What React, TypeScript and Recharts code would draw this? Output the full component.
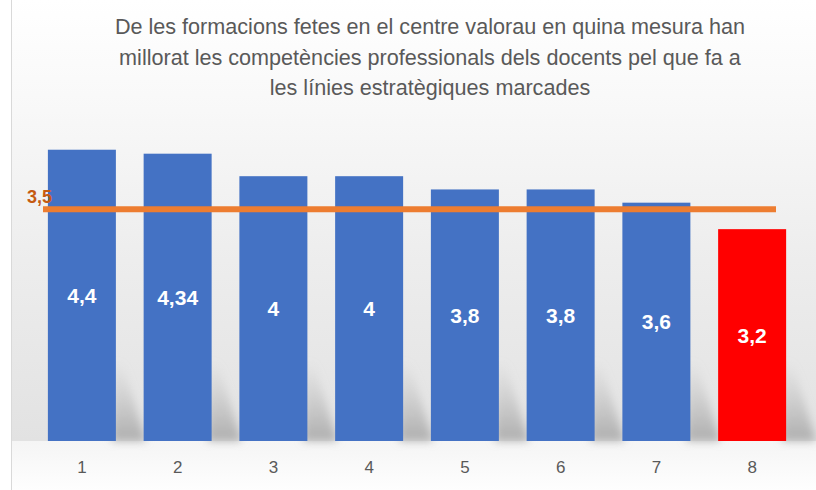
import { BarChart, Bar, XAxis, YAxis, Cell, LabelList, ReferenceLine } from "recharts";

const categories = ["1", "2", "3", "4", "5", "6", "7", "8"];
const values = [4.4, 4.34, 4, 4, 3.8, 3.8, 3.6, 3.2];
const target = 3.5;
const titleLines = [
  "De les formacions fetes en el centre valorau en quina mesura han",
  "millorat les competències professionals dels docents pel que fa a",
  "les línies estratègiques marcades",
];

const data = categories.map((c, i) => ({ name: c, value: values[i] }));

const BLUE = "#4472C4";
const RED = "#FF0000";
const FONT = "'Liberation Sans', Arial, sans-serif";

const fmt = (v: number) => String(v).replace(".", ",");

function BarWithShadow(props: any) {
  const { x, y, width, height, fill } = props;
  const bottom = y + height;
  return (
    <g>
      <polygon
        points={`${x + width - 4},${bottom - 80} ${x + width + 6},${bottom - 80} ${x + width + 30},${bottom} ${x + width - 4},${bottom}`}
        fill="url(#shadowGrad)"
        filter="url(#shadowBlur)"
      />
      <rect x={x} y={y} width={width} height={height} fill={fill} />
    </g>
  );
}

export default function App() {
  return (
    <div style={{ position: "fixed", left: 0, top: 0, width: 816, height: 490, background: "#fff", fontFamily: FONT }}>
      <div
        style={{
          position: "absolute",
          left: 11,
          top: 0,
          width: 805,
          height: 490,
          borderLeft: "1.5px solid #d9d9d9",
          background:
            "linear-gradient(to bottom, #ffffff 0px, #f8f8f8 110px, #ededed 260px, #e2e2e2 441px, #f5f5f5 441px, #fefefe 490px)",
        }}
      />
      <div style={{ position: "absolute", left: 100, top: 12, width: 660, textAlign: "center", color: "#595959", fontSize: 21.6, lineHeight: "30.5px" }}>
        {titleLines.map((l) => (
          <div key={l} style={{ whiteSpace: "nowrap" }}>{l}</div>
        ))}
      </div>
      <div style={{ position: "absolute", left: 0, top: 0 }}>
        <BarChart width={816} height={490} data={data} margin={{ top: 110, right: 16, bottom: 19, left: 34 }} barCategoryGap="14.5%">
          <defs>
            <linearGradient id="shadowGrad" x1="0" y1="0" x2="0" y2="1">
              <stop offset="0%" stopColor="#bdbdbd" stopOpacity={0} />
              <stop offset="100%" stopColor="#a8a8a8" stopOpacity={0.9} />
            </linearGradient>
            <filter id="shadowBlur" x="-50%" y="-50%" width="200%" height="200%">
              <feGaussianBlur stdDeviation="4" />
            </filter>
          </defs>
          <XAxis
            dataKey="name"
            axisLine={false}
            tickLine={false}
            tickSize={0}
            tickMargin={20}
            height={30}
            tick={{ fill: "#595959", fontSize: 17, fontFamily: FONT }}
          />
          <YAxis hide domain={[0, 5]} />
          <Bar dataKey="value" isAnimationActive={false} shape={<BarWithShadow />}>
            {data.map((d, i) => (
              <Cell key={d.name} fill={i === data.length - 1 ? RED : BLUE} />
            ))}
            <LabelList
              dataKey="value"
              position="center"
              formatter={(v: any) => fmt(v)}
              fill="#ffffff"
              style={{ fontSize: 21, fontWeight: 700, fontFamily: FONT }}
            />
          </Bar>
          <ReferenceLine
            y={target}
            stroke="#ED7D31"
            strokeWidth={6}
            shape={(p: any) => (
              <line x1={p.x1 + 9} y1={p.y1} x2={p.x2 - 24} y2={p.y2} stroke="#ED7D31" strokeWidth={6} />
            )}
            label={(p: any) => (
              <text
                x={p.viewBox.x - 7}
                y={p.viewBox.y - 6}
                fill="#C55A11"
                fontSize={18}
                fontWeight={700}
                fontFamily={FONT}
              >
                {fmt(target)}
              </text>
            )}
          />
        </BarChart>
      </div>
    </div>
  );
}
